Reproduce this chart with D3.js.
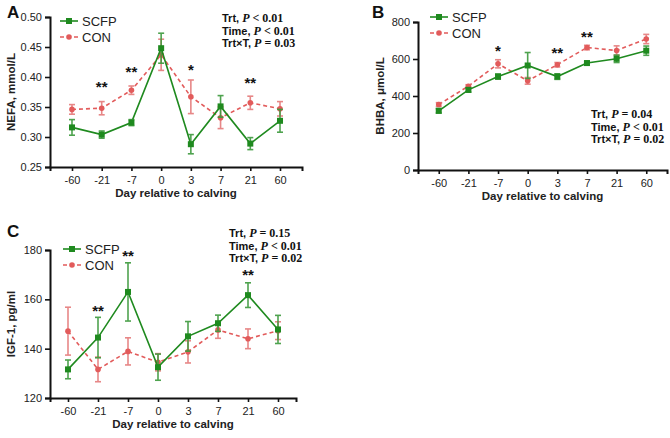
<!DOCTYPE html>
<html>
<head>
<meta charset="UTF-8">
<title>SCFP vs CON - NEFA, BHBA, IGF-1</title>
<script src="https://cdnjs.cloudflare.com/ajax/libs/d3/7.8.5/d3.min.js"></script>
<style>
  body { margin: 0; background: #fff; }
  svg { display: block; font-family: "Liberation Sans", Arial, sans-serif; }
  .tick text { font-size: 11px; fill: #222; }
  .axis-title { font-size: 11.5px; font-weight: bold; fill: #222; }
  .panel-letter { font-size: 17px; font-weight: bold; fill: #111; }
  .stars { font-size: 15px; font-weight: bold; fill: #111; }
  .legend text { font-size: 13px; fill: #222; }
  .stats { font-size: 11px; font-weight: bold; fill: #111; }
</style>
</head>
<body>
<div id="chart"></div>
<script>
// Categories (days relative to calving)
var days = ['-60', '-21', '-7', '0', '3', '7', '21', '60'];

// Panel A: NEFA, mmol/L
var nefaScfp   = [0.316, 0.304, 0.324, 0.448, 0.288, 0.351, 0.289, 0.327];
var nefaScfpSe = [0.013, 0.006, 0.005, 0.025, 0.016, 0.018, 0.010, 0.019];
var nefaCon    = [0.346, 0.348, 0.378, 0.437, 0.367, 0.332, 0.357, 0.347];
var nefaConSe  = [0.008, 0.011, 0.007, 0.026, 0.028, 0.018, 0.011, 0.012];
var nefaStars  = ['', '**', '**', '', '*', '', '**', ''];
var nefaStarY  = [null, 0.388, 0.413, null, 0.417, null, 0.395, null];
var nefaTicks  = [0.25, 0.30, 0.35, 0.40, 0.45, 0.50];

// Panel B: BHBA, umol/L
var bhbaScfp   = [320, 433, 505, 565, 505, 578, 601, 645];
var bhbaScfpSe = [12, 12, 14, 70, 15, 10, 20, 25];
var bhbaCon    = [354, 453, 574, 482, 569, 662, 646, 708];
var bhbaConSe  = [10, 8, 22, 18, 12, 12, 25, 25];
var bhbaStars  = ['', '', '*', '', '**', '**', '', ''];
var bhbaStarY  = [null, null, 661, null, 650, 737, null, null];
var bhbaTicks  = [0, 200, 400, 600, 800];

// Panel C: IGF-1, pg/ml
var igfScfp    = [131.6, 144.5, 163.0, 132.5, 145.0, 150.3, 161.7, 147.8];
var igfScfpSe  = [3.8, 8.2, 11.8, 5.3, 6.0, 3.3, 5.0, 5.7];
var igfCon     = [147.1, 131.6, 138.9, 134.5, 138.7, 147.6, 144.0, 147.3];
var igfConSe   = [9.7, 5.0, 5.5, 3.5, 4.5, 3.4, 4.0, 3.6];
var igfStars   = ['', '**', '**', '', '', '', '**', ''];
var igfStarY   = [null, 156.5, 178.8, null, null, null, 171.1, null];
var igfTicks   = [120, 140, 160, 180];

var green = '#1f8a1f', greenBar = '#3d9a3d';
var red = '#e25b5b', redBar = '#e57b7b';

var svg = d3.select('#chart').append('svg')
  .attr('width', 670).attr('height', 438);

function drawPanel(cfg) {
  var g = svg.append('g');

  var x = d3.scalePoint().domain(days)
    .range([cfg.left, cfg.right]).padding(cfg.pad);
  var y = d3.scaleLinear().domain(cfg.domain)
    .range([cfg.bottom, cfg.top]);

  // axes
  var xAxis = g.append('g')
    .attr('transform', 'translate(0,' + cfg.bottom + ')')
    .call(d3.axisBottom(x).tickSize(4).tickPadding(5));
  var yAxis = g.append('g')
    .attr('transform', 'translate(' + cfg.left + ',0)')
    .call(d3.axisLeft(y).tickValues(cfg.ticks).tickFormat(cfg.fmt).tickSize(5).tickPadding(3));
  [xAxis, yAxis].forEach(function(a) {
    a.select('.domain').attr('stroke', '#111').attr('stroke-width', 2);
    a.selectAll('.tick line').attr('stroke', '#111').attr('stroke-width', 1.6);
  });

  // axis titles
  g.append('text').attr('class', 'axis-title')
    .attr('x', (cfg.left + cfg.right) / 2).attr('y', cfg.bottom + 30)
    .attr('text-anchor', 'middle').text('Day relative to calving');
  g.append('text').attr('class', 'axis-title')
    .attr('transform', 'translate(' + cfg.ytitleX + ',' + (cfg.top + cfg.bottom) / 2 + ') rotate(-90)')
    .attr('text-anchor', 'middle').text(cfg.ytitle);

  // panel letter
  g.append('text').attr('class', 'panel-letter')
    .attr('x', cfg.letterX).attr('y', cfg.letterY).text(cfg.letter);

  var series = [
    { vals: cfg.con, se: cfg.conSe, color: red, bar: redBar, dash: '4,3', shape: 'circle' },
    { vals: cfg.scfp, se: cfg.scfpSe, color: green, bar: greenBar, dash: null, shape: 'square' }
  ];

  series.forEach(function(s) {
    var pts = days.map(function(d, i) { return { d: d, v: s.vals[i], e: s.se[i] }; });
    var line = d3.line().x(function(p) { return x(p.d); }).y(function(p) { return y(p.v); });

    g.append('path').datum(pts)
      .attr('d', line).attr('fill', 'none')
      .attr('stroke', s.color).attr('stroke-width', 1.6)
      .attr('stroke-dasharray', s.dash);

    var eb = g.append('g').attr('stroke', s.bar).attr('stroke-width', 1.6).attr('opacity', 0.9);
    pts.forEach(function(p) {
      var cx = x(p.d), y1 = y(p.v + p.e), y0 = y(p.v - p.e);
      eb.append('line').attr('x1', cx).attr('x2', cx).attr('y1', y1).attr('y2', y0);
      eb.append('line').attr('x1', cx - 3).attr('x2', cx + 3).attr('y1', y1).attr('y2', y1);
      eb.append('line').attr('x1', cx - 3).attr('x2', cx + 3).attr('y1', y0).attr('y2', y0);
    });

    if (s.shape === 'square') {
      g.selectAll(null).data(pts).enter().append('rect')
        .attr('x', function(p) { return x(p.d) - 3; })
        .attr('y', function(p) { return y(p.v) - 3; })
        .attr('width', 6).attr('height', 6).attr('fill', s.color);
    } else {
      g.selectAll(null).data(pts).enter().append('circle')
        .attr('cx', function(p) { return x(p.d); })
        .attr('cy', function(p) { return y(p.v); })
        .attr('r', 2.8).attr('fill', s.color);
    }
  });

  // significance stars
  days.forEach(function(d, i) {
    if (!cfg.stars[i]) return;
    g.append('text').attr('class', 'stars')
      .attr('x', x(d)).attr('y', y(cfg.starY[i]) + 8)
      .attr('text-anchor', 'middle').text(cfg.stars[i]);
  });

  // legend
  var lg = g.append('g').attr('class', 'legend');
  [{ name: 'SCFP', color: green, dash: null, shape: 'square' },
   { name: 'CON', color: red, dash: '4,3', shape: 'circle' }].forEach(function(it, i) {
    var ly = cfg.legendY + i * 16;
    lg.append('line').attr('x1', cfg.legendX).attr('x2', cfg.legendX + 18)
      .attr('y1', ly).attr('y2', ly).attr('stroke', it.color).attr('stroke-width', 1.6)
      .attr('stroke-dasharray', it.dash);
    if (it.shape === 'square') {
      lg.append('rect').attr('x', cfg.legendX + 6).attr('y', ly - 3).attr('width', 6).attr('height', 6).attr('fill', it.color);
    } else {
      lg.append('circle').attr('cx', cfg.legendX + 9).attr('cy', ly).attr('r', 2.8).attr('fill', it.color);
    }
    lg.append('text').attr('x', cfg.legendX + 22).attr('y', ly + 5).text(it.name);
  });

  // statistics
  cfg.stats.forEach(function(row, i) {
    var t = g.append('text').attr('class', 'stats')
      .attr('x', cfg.statsX).attr('y', cfg.statsY + i * 12.5);
    t.append('tspan').text(row[0] + ', ');
    t.append('tspan').attr('font-family', '"Liberation Serif", "Times New Roman", serif')
      .attr('font-style', 'italic').attr('font-size', '12px').text('P');
    t.append('tspan').attr('font-family', '"Liberation Serif", "Times New Roman", serif')
      .attr('font-size', '12px').text(' ' + row[1] + ' ' + row[2]);
  });
}

drawPanel({
  letter: 'A', letterX: 7, letterY: 18,
  left: 50, right: 302, pad: 0.74, top: 17, bottom: 167,
  domain: [0.25, 0.50], ticks: nefaTicks, fmt: d3.format('.2f'),
  ytitle: 'NEFA, mmol/L', ytitleX: 15,
  scfp: nefaScfp, scfpSe: nefaScfpSe, con: nefaCon, conSe: nefaConSe,
  stars: nefaStars, starY: nefaStarY,
  legendX: 60, legendY: 21,
  statsX: 222, statsY: 22,
  stats: [['Trt', '<', '0.01'], ['Time', '<', '0.01'], ['Trt\u00d7T', '=', '0.03']]
});

drawPanel({
  letter: 'B', letterX: 372, letterY: 18,
  left: 418, right: 667, pad: 0.7, top: 22, bottom: 170,
  domain: [0, 800], ticks: bhbaTicks, fmt: d3.format('d'),
  ytitle: 'BHBA, \u03bcmol/L', ytitleX: 384,
  scfp: bhbaScfp, scfpSe: bhbaScfpSe, con: bhbaCon, conSe: bhbaConSe,
  stars: bhbaStars, starY: bhbaStarY,
  legendX: 430, legendY: 17,
  statsX: 591, statsY: 118,
  stats: [['Trt', '=', '0.04'], ['Time', '<', '0.01'], ['Trt\u00d7T', '=', '0.02']]
});

drawPanel({
  letter: 'C', letterX: 7, letterY: 237,
  left: 50, right: 296, pad: 0.6, top: 250, bottom: 398,
  domain: [120, 180], ticks: igfTicks, fmt: d3.format('d'),
  ytitle: 'IGF-1, pg/ml', ytitleX: 15,
  scfp: igfScfp, scfpSe: igfScfpSe, con: igfCon, conSe: igfConSe,
  stars: igfStars, starY: igfStarY,
  legendX: 63, legendY: 249,
  statsX: 229, statsY: 237,
  stats: [['Trt', '=', '0.15'], ['Time', '<', '0.01'], ['Trt\u00d7T', '=', '0.02']]
});
</script>
</body>
</html>
